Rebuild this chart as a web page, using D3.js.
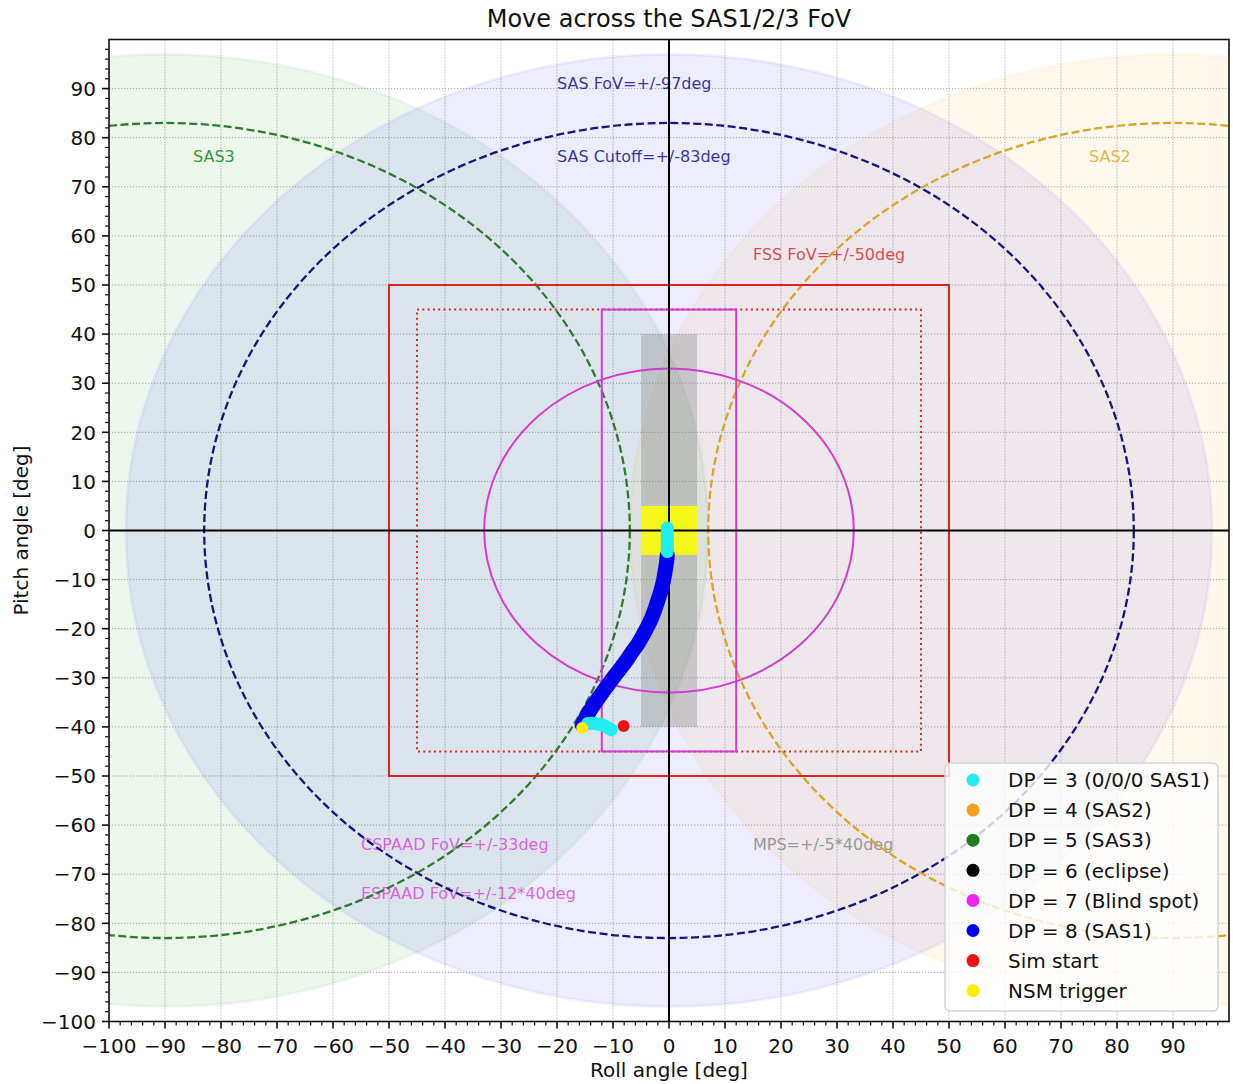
<!DOCTYPE html>
<html>
<head>
<meta charset="utf-8">
<script src="https://cdn.jsdelivr.net/npm/d3@7"></script>
<style>
  body { margin: 0; background: #fff; }
  svg { display: block; font-family: "DejaVu Sans", sans-serif; }
</style>
</head>
<body>
<svg id="chart" width="1233" height="1084"></svg>
<script>
// ---- Sensor fields of view (degrees) ----
const sasCenterRoll = [0, 90, -90];          // SAS1, SAS2, SAS3 boresights
const sasFillColors = ["blue", "orange", "green"];
const sasCutoffColors = ["#15157f", "#dca22a", "#2f7a2f"];
const sasFovRadius = 97;
const sasCutoffRadius = 83;
const fssHalf = [50, 45];                    // outer FoV, inner (dotted) box
const cspaadRadius = 33;
const espaadHalf = [12, 45];                 // roll, pitch
const mpsHalf = [5, 40];                     // roll, pitch
const nsmBoxHalf = [5, 5];                   // roll, pitch

// ---- Attitude trajectory (roll, pitch) ----
const dp8Roll  = [-0.3, -0.5, -0.8, -1.1, -1.5, -2.0, -2.5, -3.1, -3.8, -4.6, -5.5, -6.5, -7.5, -8.6, -9.7, -10.8, -11.9, -12.9, -13.9, -14.8, -15.5];
const dp8Pitch = [-5.0, -7.0, -9.0, -10.8, -12.5, -14.3, -16.0, -17.8, -19.5, -21.2, -23.0, -24.6, -26.3, -28.0, -29.6, -31.3, -33.0, -34.6, -36.3, -38.0, -39.6];
const dp3StartRoll  = [-0.3, -0.3, -0.3];
const dp3StartPitch = [0.5, -2.0, -4.3];
const dp3EndRoll  = [-14.5, -13.2, -12.0, -11.0, -10.3];
const dp3EndPitch = [-39.3, -39.3, -39.6, -40.1, -40.6];
const simStartRoll = [-8.1], simStartPitch = [-39.8];
const nsmTriggerRoll = [-15.5], nsmTriggerPitch = [-40.2];

// ---- Legend ----
const legendLabels = ["DP = 3 (0/0/0 SAS1)", "DP = 4 (SAS2)", "DP = 5 (SAS3)", "DP = 6 (eclipse)",
                      "DP = 7 (Blind spot)", "DP = 8 (SAS1)", "Sim start", "NSM trigger"];
const legendColors = ["#22eef2", "#f5a020", "#1e7d1e", "#000000", "#ee22ee", "#0000ee", "#ee1111", "#ffee00"];

// ---- Annotations (roll, pitch) ----
const noteTexts = ["SAS FoV=+/-97deg", "SAS Cutoff=+/-83deg", "FSS FoV=+/-50deg", "SAS3", "SAS2",
                   "CSPAAD FoV=+/-33deg", "ESPAAD FoV=+/-12*40deg", "MPS=+/-5*40deg"];
const noteRoll  = [-20, -20, 15, -85, 75, -55, -55, 15];
const notePitch = [90, 75, 55, 75, 75, -65, -75, -65];
const noteColors = ["darkblue", "darkblue", "#dd1c1c", "green", "goldenrod", "#dd3ddd", "#dd3ddd", "gray"];

// ---- Axis ticks ----
const majorTicks = [-100, -90, -80, -70, -60, -50, -40, -30, -20, -10, 0, 10, 20, 30, 40, 50, 60, 70, 80, 90];
const minorTicks = d3.range(-98, 100, 2).filter(v => v % 10 !== 0);

// ---- Layout ----
const plot = { left: 109, right: 1229, top: 39.5, bottom: 1021.5 };
const x = d3.scaleLinear().domain([-100, 100]).range([plot.left, plot.right]);
const y = d3.scaleLinear().domain([-100, 100]).range([plot.bottom, plot.top]);
const rx = r => x(r) - x(0);
const ry = r => y(0) - y(r);

const svg = d3.select("#chart");
svg.append("rect").attr("width", 1233).attr("height", 1084).attr("fill", "#fff");

svg.append("defs").append("clipPath").attr("id", "plotClip")
  .append("rect").attr("x", plot.left).attr("y", plot.top)
  .attr("width", plot.right - plot.left).attr("height", plot.bottom - plot.top);

const g = svg.append("g").attr("clip-path", "url(#plotClip)");

// grid
const grid = g.append("g").attr("stroke", "#a8a8a8").attr("stroke-width", 1).attr("stroke-dasharray", "1.2,1.8");
grid.selectAll(".gx").data(majorTicks).join("line")
  .attr("x1", d => x(d)).attr("x2", d => x(d)).attr("y1", plot.top).attr("y2", plot.bottom);
grid.selectAll(".gy").data(majorTicks).join("line")
  .attr("y1", d => y(d)).attr("y2", d => y(d)).attr("x1", plot.left).attr("x2", plot.right);

// SAS field-of-view discs
g.append("g").selectAll("ellipse").data(sasCenterRoll).join("ellipse")
  .attr("cx", d => x(d)).attr("cy", y(0))
  .attr("rx", rx(sasFovRadius)).attr("ry", ry(sasFovRadius))
  .attr("fill", (d, i) => sasFillColors[i]).attr("fill-opacity", 0.07)
  .attr("stroke", (d, i) => sasFillColors[i]).attr("stroke-opacity", 0.05).attr("stroke-width", 3);

// MPS region
g.append("rect")
  .attr("x", x(-mpsHalf[0])).attr("y", y(mpsHalf[1]))
  .attr("width", x(mpsHalf[0]) - x(-mpsHalf[0])).attr("height", y(-mpsHalf[1]) - y(mpsHalf[1]))
  .attr("fill", "gray").attr("fill-opacity", 0.34);

// NSM trigger box
g.append("rect")
  .attr("x", x(-nsmBoxHalf[0])).attr("y", y(nsmBoxHalf[1]))
  .attr("width", x(nsmBoxHalf[0]) - x(-nsmBoxHalf[0])).attr("height", y(-nsmBoxHalf[1]) - y(nsmBoxHalf[1]))
  .attr("fill", "#ffff00").attr("fill-opacity", 0.85);

// annotations
g.append("g").selectAll("text").data(noteTexts).join("text")
  .attr("x", (d, i) => x(noteRoll[i])).attr("y", (d, i) => y(notePitch[i]))
  .attr("font-size", 16).attr("fill", (d, i) => noteColors[i]).attr("fill-opacity", 0.8)
  .text(d => d);

// SAS cutoff circles
g.append("g").selectAll("ellipse").data(sasCenterRoll).join("ellipse")
  .attr("cx", d => x(d)).attr("cy", y(0))
  .attr("rx", rx(sasCutoffRadius)).attr("ry", ry(sasCutoffRadius))
  .attr("fill", "none").attr("stroke", (d, i) => sasCutoffColors[i])
  .attr("stroke-width", 2.3).attr("stroke-dasharray", "8,3.5");

// FSS boxes
g.append("rect")
  .attr("x", x(-fssHalf[0])).attr("y", y(fssHalf[0]))
  .attr("width", x(fssHalf[0]) - x(-fssHalf[0])).attr("height", y(-fssHalf[0]) - y(fssHalf[0]))
  .attr("fill", "none").attr("stroke", "#dd2222").attr("stroke-width", 2);
g.append("rect")
  .attr("x", x(-fssHalf[1])).attr("y", y(fssHalf[1]))
  .attr("width", x(fssHalf[1]) - x(-fssHalf[1])).attr("height", y(-fssHalf[1]) - y(fssHalf[1]))
  .attr("fill", "none").attr("stroke", "#dd2222").attr("stroke-width", 2).attr("stroke-dasharray", "2,3.3");

// CSPAAD and ESPAAD
g.append("ellipse")
  .attr("cx", x(0)).attr("cy", y(0)).attr("rx", rx(cspaadRadius)).attr("ry", ry(cspaadRadius))
  .attr("fill", "none").attr("stroke", "#d23cd2").attr("stroke-width", 2);
g.append("rect")
  .attr("x", x(-espaadHalf[0])).attr("y", y(espaadHalf[1]))
  .attr("width", x(espaadHalf[0]) - x(-espaadHalf[0])).attr("height", y(-espaadHalf[1]) - y(espaadHalf[1]))
  .attr("fill", "none").attr("stroke", "#d23cd2").attr("stroke-width", 2);

// zero axes
g.append("line").attr("x1", x(0)).attr("x2", x(0)).attr("y1", plot.top).attr("y2", plot.bottom)
  .attr("stroke", "#000").attr("stroke-width", 2);
g.append("line").attr("y1", y(0)).attr("y2", y(0)).attr("x1", plot.left).attr("x2", plot.right)
  .attr("stroke", "#000").attr("stroke-width", 2);

// trajectory
const track = d3.line().x(d => x(d[0])).y(d => y(d[1])).curve(d3.curveCatmullRom);
const trackStyle = (sel, color, w) => sel.attr("fill", "none").attr("stroke", color)
  .attr("stroke-width", w).attr("stroke-linecap", "round").attr("stroke-linejoin", "round");
g.append("path").datum(d3.zip(dp8Roll, dp8Pitch)).attr("d", track).call(trackStyle, legendColors[5], 15);
g.append("path").datum(d3.zip(dp3StartRoll, dp3StartPitch)).attr("d", track).call(trackStyle, legendColors[0], 13);
g.append("path").datum(d3.zip(dp3EndRoll, dp3EndPitch)).attr("d", track).call(trackStyle, legendColors[0], 13);
g.selectAll(".sim").data(d3.zip(simStartRoll, simStartPitch)).join("circle")
  .attr("cx", d => x(d[0])).attr("cy", d => y(d[1])).attr("r", 6).attr("fill", legendColors[6]);
g.selectAll(".nsm").data(d3.zip(nsmTriggerRoll, nsmTriggerPitch)).join("circle")
  .attr("cx", d => x(d[0])).attr("cy", d => y(d[1])).attr("r", 6).attr("fill", legendColors[7]);

// frame
svg.append("rect").attr("x", plot.left).attr("y", plot.top)
  .attr("width", plot.right - plot.left).attr("height", plot.bottom - plot.top)
  .attr("fill", "none").attr("stroke", "#111").attr("stroke-width", 1.6);

// ticks
const ax = svg.append("g").attr("stroke", "#111");
ax.selectAll(".mx").data(majorTicks).join("line").attr("stroke-width", 1.6)
  .attr("x1", d => x(d)).attr("x2", d => x(d)).attr("y1", plot.bottom).attr("y2", plot.bottom + 7);
ax.selectAll(".nx").data(minorTicks).join("line").attr("stroke-width", 1.2)
  .attr("x1", d => x(d)).attr("x2", d => x(d)).attr("y1", plot.bottom).attr("y2", plot.bottom + 4);
ax.selectAll(".my").data(majorTicks).join("line").attr("stroke-width", 1.6)
  .attr("y1", d => y(d)).attr("y2", d => y(d)).attr("x1", plot.left).attr("x2", plot.left - 7);
ax.selectAll(".ny").data(minorTicks).join("line").attr("stroke-width", 1.2)
  .attr("y1", d => y(d)).attr("y2", d => y(d)).attr("x1", plot.left).attr("x2", plot.left - 4);

const fmt = d => (d < 0 ? "\u2212" + Math.abs(d) : String(d));
svg.append("g").selectAll("text").data(majorTicks).join("text")
  .attr("x", d => x(d)).attr("y", plot.bottom + 31).attr("text-anchor", "middle")
  .attr("font-size", 20).attr("fill", "#111").text(fmt);
svg.append("g").selectAll("text").data(majorTicks).join("text")
  .attr("x", plot.left - 13).attr("y", d => y(d)).attr("dy", "0.36em").attr("text-anchor", "end")
  .attr("font-size", 20).attr("fill", "#111").text(fmt);

// titles
svg.append("text").attr("x", (plot.left + plot.right) / 2).attr("y", 27).attr("text-anchor", "middle")
  .attr("font-size", 24).attr("fill", "#111").text("Move across the SAS1/2/3 FoV");
svg.append("text").attr("x", (plot.left + plot.right) / 2).attr("y", 1077).attr("text-anchor", "middle")
  .attr("font-size", 20).attr("fill", "#111").text("Roll angle [deg]");
svg.append("text").attr("transform", `translate(28,${(plot.top + plot.bottom) / 2}) rotate(-90)`)
  .attr("text-anchor", "middle").attr("font-size", 20).attr("fill", "#111").text("Pitch angle [deg]");

// legend
const leg = svg.append("g");
leg.append("rect").attr("x", 945).attr("y", 763).attr("width", 273).attr("height", 248).attr("rx", 5)
  .attr("fill", "#fff").attr("fill-opacity", 0.8).attr("stroke", "#d4d4d4").attr("stroke-width", 1.5);
const rows = leg.selectAll("g.row").data(legendLabels).join("g").attr("class", "row")
  .attr("transform", (d, i) => `translate(0,${780 + i * 30.1})`);
rows.append("circle").attr("cx", 973).attr("cy", 0).attr("r", 6.5).attr("fill", (d, i) => legendColors[i]);
rows.append("text").attr("x", 1008).attr("y", 0).attr("dy", "0.36em").attr("font-size", 20)
  .attr("fill", "#111").text(d => d);
</script>
</body>
</html>
